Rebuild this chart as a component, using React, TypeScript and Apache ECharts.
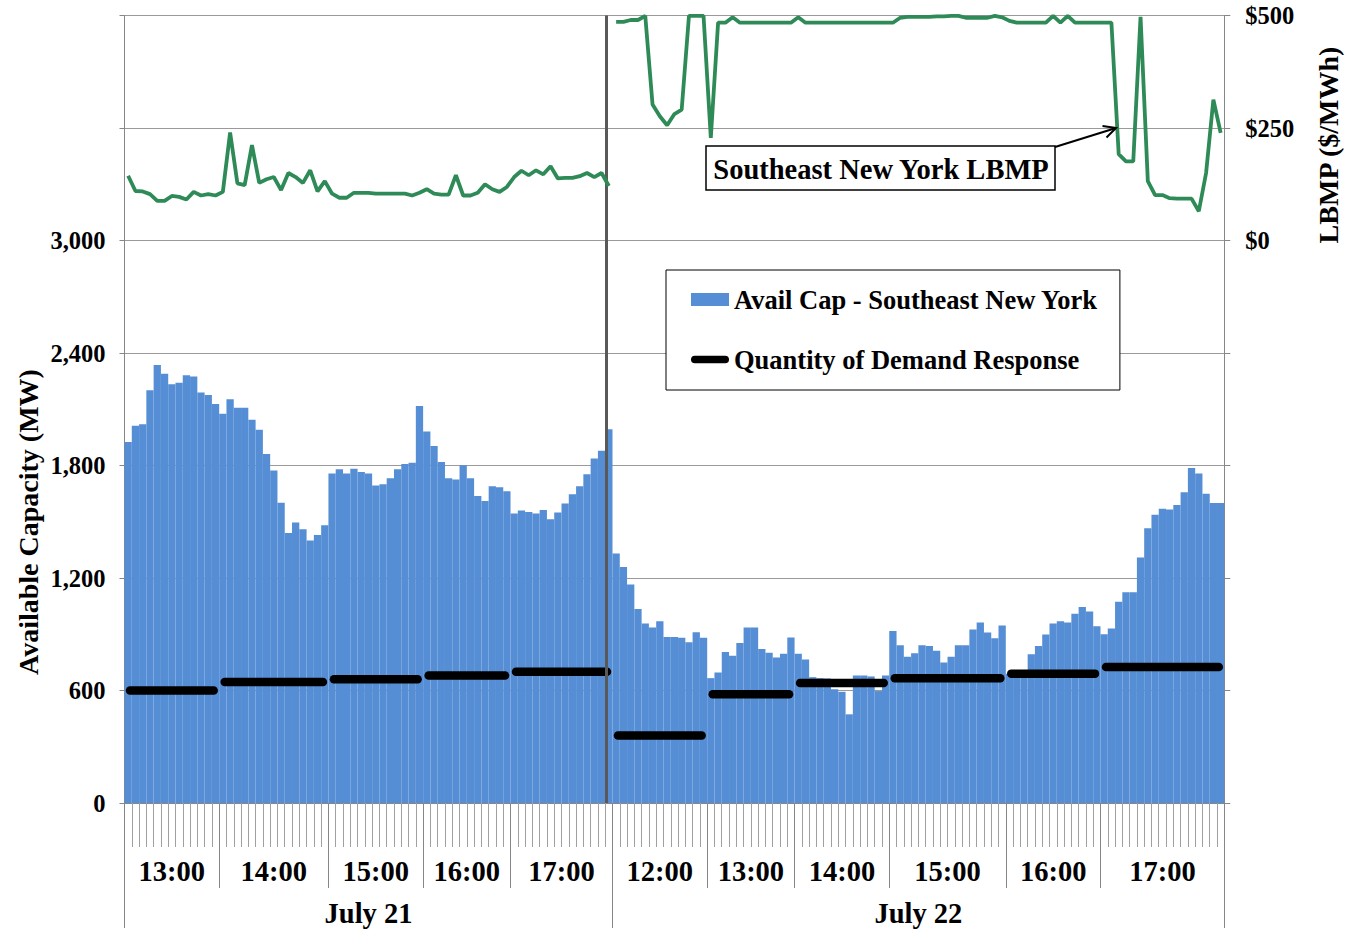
import React, { useEffect, useRef } from "react";
import * as echarts from "echarts";

// ---- Data ----
const HOUR_LABELS = ["13:00", "14:00", "15:00", "16:00", "17:00", "12:00", "13:00", "14:00", "15:00", "16:00", "17:00"];
const HOUR_COUNTS = [13, 15, 13, 12, 14, 13, 12, 13, 16, 13, 17];
const DAY_LABELS = ["July 21", "July 22"];
const DAY_HOUR_GROUPS = [5, 6];
const DR_MW = [600, 645, 660, 680, 700, 360, 580, 640, 665, 690, 725];

const CAP_JUL21 = [
  1925, 2012, 2020, 2201, 2336, 2290, 2233, 2242, 2281, 2275, 2190, 2176, 2128,
  2076, 2153, 2108, 2108, 2044, 1991, 1861, 1774, 1602, 1440, 1496, 1460, 1400, 1430, 1481,
  1757, 1780, 1757, 1783, 1766, 1757, 1694, 1700, 1732, 1780, 1808, 1815, 2117,
  1982, 1904, 1819, 1732, 1726, 1801, 1732, 1637, 1611, 1689, 1684, 1663,
  1544, 1560, 1552, 1544, 1563, 1513, 1549, 1597, 1647, 1689, 1753, 1837, 1879, 1993,
];
const CAP_JUL22 = [
  1331, 1259, 1165, 1035, 957, 936, 970, 885, 885, 881, 858, 911, 881,
  666, 696, 805, 785, 853, 936, 936, 822, 801, 776, 796, 883,
  796, 766, 671, 666, 664, 607, 593, 473, 680, 680, 675, 597, 680,
  917, 842, 780, 799, 842, 837, 812, 750, 780, 842, 842, 926, 963, 910, 879, 947,
  690, 695, 700, 794, 837, 899, 957, 970, 963, 1009, 1046, 1021, 943,
  900, 931, 1073, 1124, 1124, 1309, 1465, 1538, 1570, 1565, 1590, 1657, 1787, 1757, 1650, 1600, 1600,
];
const LBMP_JUL21 = [
  144, 110, 109, 103, 88, 88, 99, 97, 91, 108, 100, 103, 100, 108, 240, 127, 123, 212, 128, 136,
  141, 112, 150, 141, 128, 156, 109, 132, 104, 95, 95, 106, 106, 106, 104, 104, 104, 104, 104, 100,
  106, 114, 104, 102, 102, 145, 100, 100, 106, 125, 114, 108, 119, 141, 155, 145, 156, 147, 165, 138,
  139, 139, 143, 150, 141, 150, 121,
];
const LBMP_JUL22 = [
  486, 486, 490, 490, 499, 302, 276, 256, 281, 291,
  499, 499, 499, 228, 484, 484, 496, 484, 484, 484,
  484, 484, 484, 484, 484, 496, 484, 484, 484, 484,
  484, 484, 484, 484, 484, 484, 484, 484, 484, 495,
  497, 497, 497, 497, 498, 498, 499, 499, 495, 495,
  495, 495, 499, 496, 488, 484, 484, 484, 484, 484,
  499, 484, 499, 484, 484, 484, 484, 484, 484, 192,
  176, 176, 497, 132, 101, 101, 94, 93, 93, 93,
  65, 150, 313, 239,
];
const DIVIDER_AT = 66.2; // position of the day divider, in interval units

const FONT = '"Liberation Serif", "Times New Roman", serif';

export default function App() {
  const ref = useRef<HTMLDivElement>(null);

  useEffect(() => {
    const chart = echarts.init(ref.current!, null, { renderer: "svg" });

    const capacity = [...CAP_JUL21, ...CAP_JUL22];
    const lbmp21 = [...LBMP_JUL21, ...LBMP_JUL22.map(() => null)];
    const lbmp22 = [...LBMP_JUL21.map(() => null), ...LBMP_JUL22];
    const bounds: number[] = [0];
    HOUR_COUNTS.forEach((c) => bounds.push(bounds[bounds.length - 1] + c));
    const total = bounds[bounds.length - 1];
    const categories: string[] = [];
    let g0 = 0;
    DAY_HOUR_GROUPS.forEach((n, d) => {
      for (let g = g0; g < g0 + n; g++) {
        for (let k = 0; k < HOUR_COUNTS[g]; k++) categories.push(`${DAY_LABELS[d]} ${HOUR_LABELS[g]} #${k + 1}`);
      }
      g0 += n;
    });
    const hourCenters = HOUR_COUNTS.map((c, g) => bounds[g] + c / 2);
    const dayBounds: number[] = [0];
    let acc = 0;
    DAY_HOUR_GROUPS.forEach((n) => {
      acc += n;
      dayBounds.push(bounds[acc]);
    });
    const dayCenters = DAY_LABELS.map((_, d) => (dayBounds[d] + dayBounds[d + 1]) / 2);
    const drData = DR_MW.map((v, g) => [bounds[g], bounds[g + 1], v]);

    const findLabel = (centers: number[], labels: string[]) => (v: number) => {
      const i = centers.findIndex((c) => Math.abs(c - v) < 1e-6);
      return i >= 0 ? labels[i] : "";
    };

    const axisGray = "#868686";
    const labelBase = { fontFamily: FONT, fontWeight: "bold" as const, color: "#000" };
    const lbmpStyle = {
      type: "line",
      xAxisIndex: 0,
      yAxisIndex: 1,
      symbol: "none",
      connectNulls: false,
      lineStyle: { color: "#2E8B57", width: 3.8 },
      itemStyle: { color: "#2E8B57" },
      z: 5,
    };

    chart.setOption({
      animation: false,
      backgroundColor: "#fff",
      grid: { left: 124.5, right: 125.7, top: 15.5, bottom: 126, containLabel: false, outerBoundsMode: "none" },
      legend: {
        orient: "vertical",
        left: 666,
        top: 270,
        padding: [16, 22, 17, 25],
        itemGap: 33,
        itemWidth: 38,
        itemHeight: 13,
        borderColor: "#000",
        borderWidth: 1,
        backgroundColor: "#fff",
        selectedMode: false,
        textStyle: { ...labelBase, fontSize: 26.5 },
        data: [
          { name: "Avail Cap - Southeast New York", icon: "rect" },
          {
            name: "Quantity of Demand Response",
            icon: "path://M4,0 L36,0 A4,4 0 0 1 36,8 L4,8 A4,4 0 0 1 4,0 Z",
          },
        ],
      },
      xAxis: [
        {
          type: "category",
          data: categories,
          position: "bottom",
          boundaryGap: true,
          axisLine: { show: true, onZero: false, lineStyle: { color: axisGray } },
          axisTick: { show: true, interval: 0, length: 44, lineStyle: { color: "#a0a0a0" } },
          axisLabel: { show: false },
          splitLine: { show: false },
        },
        {
          type: "value",
          min: 0,
          max: total,
          position: "bottom",
          axisLine: { show: false, onZero: false },
          axisTick: { show: true, customValues: bounds, length: 85, lineStyle: { color: axisGray } },
          axisLabel: {
            show: true,
            customValues: hourCenters,
            formatter: findLabel(hourCenters, HOUR_LABELS),
            margin: 54,
            fontSize: 28.5,
            ...labelBase,
          },
          splitLine: { show: false },
        },
        {
          type: "value",
          min: 0,
          max: total,
          position: "bottom",
          axisLine: { show: false, onZero: false },
          axisTick: { show: true, customValues: dayBounds, length: 125, lineStyle: { color: axisGray } },
          axisLabel: {
            show: true,
            customValues: dayCenters,
            formatter: findLabel(dayCenters, DAY_LABELS),
            margin: 96,
            fontSize: 28.5,
            ...labelBase,
          },
          splitLine: { show: false },
        },
      ],
      yAxis: [
        {
          type: "value",
          min: 0,
          max: 4200,
          interval: 600,
          position: "left",
          axisLine: { show: true, onZero: false, lineStyle: { color: axisGray } },
          axisTick: { show: true, length: 5, lineStyle: { color: axisGray } },
          axisLabel: {
            formatter: (v: number) => (v <= 3000 ? v.toLocaleString("en-US") : ""),
            margin: 19,
            fontSize: 24.5,
            ...labelBase,
          },
          splitLine: { show: true, lineStyle: { color: "#9a9a9a", width: 1 } },
        },
        {
          type: "value",
          min: -1250,
          max: 500,
          interval: 250,
          position: "right",
          axisLine: { show: true, onZero: false, lineStyle: { color: axisGray } },
          axisTick: { show: true, length: 6, lineStyle: { color: axisGray } },
          axisLabel: {
            formatter: (v: number) => (v >= 0 ? "$" + v : ""),
            margin: 21,
            fontSize: 24.5,
            ...labelBase,
          },
          splitLine: { show: false },
        },
      ],
      series: [
        {
          name: "Avail Cap - Southeast New York",
          type: "bar",
          xAxisIndex: 0,
          yAxisIndex: 0,
          data: capacity,
          barCategoryGap: "0%",
          barGap: "0%",
          itemStyle: { color: "#558ED5" },
          z: 2,
        },
        {
          name: "Quantity of Demand Response",
          type: "custom",
          xAxisIndex: 1,
          yAxisIndex: 0,
          data: drData,
          encode: { x: [0, 1], y: 2 },
          itemStyle: { color: "#000" },
          renderItem: (params: any, api: any) => {
            const a = api.coord([api.value(0), api.value(2)]);
            const b = api.coord([api.value(1), api.value(2)]);
            return {
              type: "line",
              shape: { x1: a[0] + 5.5, y1: a[1], x2: b[0] - 5.5, y2: b[1] },
              style: { stroke: "#000", lineWidth: 8.5, lineCap: "round" },
            };
          },
          markLine: {
            silent: true,
            symbol: "none",
            label: { show: false },
            lineStyle: { color: "#595959", width: 3, type: "solid" },
            data: [{ xAxis: DIVIDER_AT }],
          },
          z: 4,
        },
        { ...lbmpStyle, name: "Southeast New York LBMP", data: lbmp21 },
        { ...lbmpStyle, name: "Southeast New York LBMP", data: lbmp22 },
      ],
      graphic: [
        {
          type: "rect",
          shape: { x: 706, y: 146, width: 349, height: 44 },
          style: { fill: "#fff", stroke: "#000", lineWidth: 1.5 },
          z: 100,
        },
        {
          type: "text",
          x: 881,
          y: 169.5,
          style: {
            text: "Southeast New York LBMP",
            fontFamily: FONT,
            fontWeight: "bold",
            fontSize: 28.5,
            fill: "#000",
            align: "center",
            verticalAlign: "middle",
          },
          z: 101,
        },
        {
          type: "line",
          shape: { x1: 1055, y1: 147, x2: 1116, y2: 128 },
          style: { stroke: "#000", lineWidth: 2 },
          z: 100,
        },
        {
          type: "polyline",
          shape: { points: [[1102.5, 126], [1116, 128], [1106.5, 137.5]] },
          style: { stroke: "#000", lineWidth: 2, fill: null },
          z: 100,
        },
        {
          type: "text",
          x: 28,
          y: 522,
          rotation: Math.PI / 2,
          style: {
            text: "Available Capacity (MW)",
            fontFamily: FONT,
            fontWeight: "bold",
            fontSize: 28,
            fill: "#000",
            align: "center",
            verticalAlign: "middle",
          },
        },
        {
          type: "text",
          x: 1328,
          y: 145,
          rotation: Math.PI / 2,
          style: {
            text: "LBMP ($/MWh)",
            fontFamily: FONT,
            fontWeight: "bold",
            fontSize: 28,
            fill: "#000",
            align: "center",
            verticalAlign: "middle",
          },
        },
      ],
    });

    return () => chart.dispose();
  }, []);

  return <div ref={ref} style={{ position: "fixed", left: 0, top: 0, width: 1350, height: 929 }} />;
}
